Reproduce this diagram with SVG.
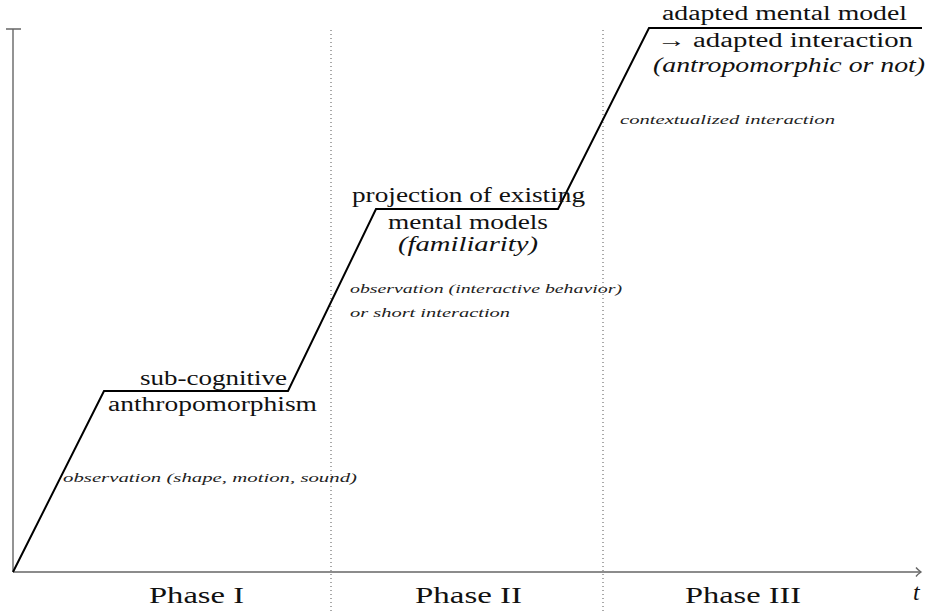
<svg xmlns="http://www.w3.org/2000/svg" width="927" height="614" viewBox="0 0 927 614">
<style>
.axis{stroke:#666;stroke-width:1.4;fill:none}
.sep{stroke:#555;stroke-width:1;stroke-dasharray:1 3;fill:none}
.curve{stroke:#000;stroke-width:2;fill:none;stroke-linejoin:miter}
.lbl{font-family:'Liberation Serif','Times New Roman',Times,serif;font-size:20px;fill:#111}
.it{font-style:italic}
.sm{font-family:'Liberation Serif','Times New Roman',Times,serif;font-size:13px;font-style:italic;fill:#222}
.ph{font-family:'Liberation Serif','Times New Roman',Times,serif;font-size:24px;fill:#111}
</style>
<rect width="927" height="614" fill="#fff"/>
<g id="axes">
<path class="axis" d="M13 572 V29 M6 29 H21"/>
<path class="axis" d="M13 572 H921"/>
<path class="axis" d="M916 567.5 Q918 570 921 572 Q918 574 916 576.5" stroke-width="1.2"/>
</g>
<g id="separators">
<path class="sep" d="M331 30 V614"/>
<path class="sep" d="M603 30 V614"/>
</g>
<g id="connectors">
<path class="curve" d="M13 572 L104 391 L288 391 L376 209 L558 209 L649 28 L922 28"/>
</g>
<g id="phase1">
<text class="lbl" x="287" y="385" text-anchor="end" textLength="147" lengthAdjust="spacingAndGlyphs">sub-cognitive</text>
<text class="lbl" x="108" y="411" textLength="209" lengthAdjust="spacingAndGlyphs">anthropomorphism</text>
<text class="sm" x="63" y="482" textLength="294" lengthAdjust="spacingAndGlyphs">observation (shape, motion, sound)</text>
</g>
<g id="phase2">
<text class="lbl" x="352" y="202" textLength="233" lengthAdjust="spacingAndGlyphs">projection of existing</text>
<text class="lbl" x="388" y="229" textLength="160" lengthAdjust="spacingAndGlyphs">mental models</text>
<text class="lbl it" x="398" y="251" textLength="140" lengthAdjust="spacingAndGlyphs">(familiarity)</text>
<text class="sm" x="350" y="293" textLength="272" lengthAdjust="spacingAndGlyphs">observation (interactive behavior)</text>
<text class="sm" x="350" y="317" textLength="160" lengthAdjust="spacingAndGlyphs">or short interaction</text>
</g>
<g id="phase3">
<text class="lbl" x="662" y="20" textLength="245" lengthAdjust="spacingAndGlyphs">adapted mental model</text>
<text class="lbl" x="657" y="47" textLength="256" lengthAdjust="spacingAndGlyphs">→ adapted interaction</text>
<text class="lbl it" x="653" y="72" textLength="272" lengthAdjust="spacingAndGlyphs">(antropomorphic or not)</text>
<text class="sm" x="620" y="124" textLength="215" lengthAdjust="spacingAndGlyphs">contextualized interaction</text>
</g>
<g id="phase-labels">
<text class="ph" x="149" y="603" textLength="95" lengthAdjust="spacingAndGlyphs">Phase I</text>
<text class="ph" x="415" y="603" textLength="107" lengthAdjust="spacingAndGlyphs">Phase II</text>
<text class="ph" x="685" y="603" textLength="116" lengthAdjust="spacingAndGlyphs">Phase III</text>
<text class="ph it" x="913" y="600">t</text>
</g>
</svg>
